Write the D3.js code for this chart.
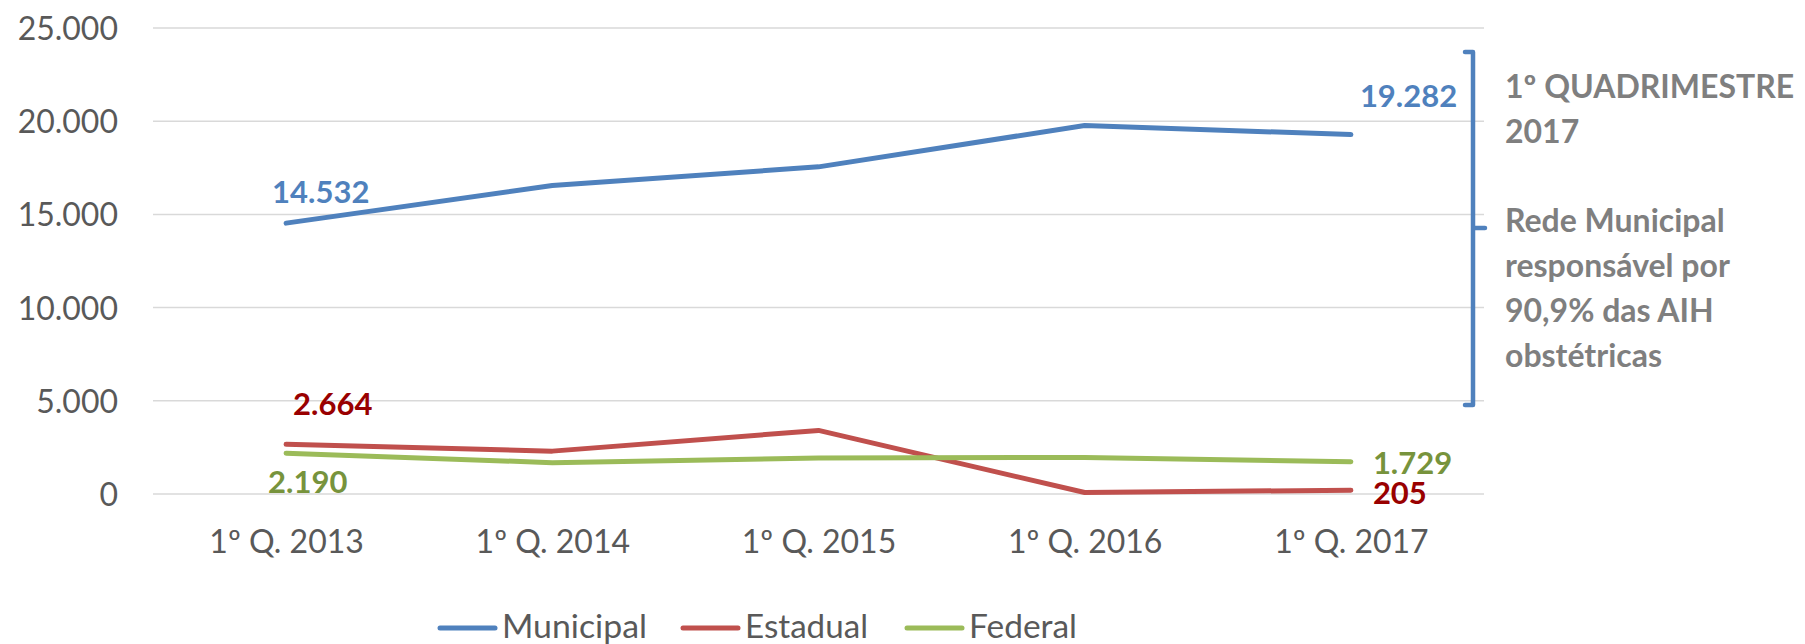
<!DOCTYPE html>
<html>
<head>
<meta charset="utf-8">
<script src="https://cdn.jsdelivr.net/npm/d3@7"></script>
<style>
  html, body { margin: 0; padding: 0; background: #fff; }
  svg { display: block; font-family: Lato, "Open Sans", sans-serif; }
</style>
</head>
<body>
<svg id="graph"></svg>
<script>
// categorias e séries
const categorias = ['1º Q. 2013', '1º Q. 2014', '1º Q. 2015', '1º Q. 2016', '1º Q. 2017'];
const municipal = [14532, 16550, 17550, 19770, 19282];
const estadual = [2664, 2300, 3410, 80, 205];
const federal = [2190, 1680, 1930, 1960, 1729];
const yTicks = [0, 5000, 10000, 15000, 20000, 25000];
const nota = ['1º QUADRIMESTRE', '2017', '', 'Rede Municipal', 'responsável por', '90,9% das AIH', 'obstétricas'];

const series = [
    { nome: 'Municipal', valores: municipal, cor: '#4F81BD', corLabel: '#4F81BD' },
    { nome: 'Estadual', valores: estadual, cor: '#C0504D', corLabel: '#990000' },
    { nome: 'Federal', valores: federal, cor: '#9BBB59', corLabel: '#77933C' }
];

// onde ficam os rótulos de valor (primeiro e último ponto)
const rotulos = [
    { serie: 0, i: 0, dx: -14, dy: -20 },
    { serie: 0, i: 4, dx: 9, dy: -28 },
    { serie: 1, i: 0, dx: 7, dy: -29 },
    { serie: 1, i: 4, dx: 22, dy: 14 },
    { serie: 2, i: 0, dx: -18, dy: 40 },
    { serie: 2, i: 4, dx: 22, dy: 12 }
];

var svgWidth = 1805;
var svgHeight = 644;
var svg = d3.select('#graph')
    .attr('width', svgWidth)
    .attr('height', svgHeight);

const br = d3.formatLocale({ decimal: ',', thousands: '.', grouping: [3], currency: ['R$', ''] });
const fmt = br.format(',d');

var x = d3.scalePoint().domain(categorias).range([153, 1484]).padding(0.5);
var y = d3.scaleLinear().domain([0, 25000]).range([494, 28]);

// grade
svg.append('g')
    .selectAll('line')
    .data(yTicks)
    .enter()
    .append('line')
    .attr('x1', 153)
    .attr('x2', 1484)
    .attr('y1', d => y(d))
    .attr('y2', d => y(d))
    .attr('stroke', '#D9D9D9')
    .attr('stroke-width', 1.5);

// eixo y
var yAxis = svg.append('g')
    .attr('transform', 'translate(118,0)')
    .call(d3.axisLeft(y).tickValues(yTicks).tickFormat(fmt).tickSize(0).tickPadding(0));
yAxis.select('.domain').remove();
yAxis.selectAll('text')
    .attr('font-size', 32)
    .attr('font-family', 'Lato, sans-serif')
    .attr('fill', '#595959')
    .attr('dy', '0.36em');

// eixo x
var xAxis = svg.append('g')
    .attr('transform', 'translate(0,' + 494 + ')')
    .call(d3.axisBottom(x).tickSize(0).tickPadding(0));
xAxis.select('.domain').remove();
xAxis.selectAll('text')
    .attr('font-size', 32)
    .attr('font-family', 'Lato, sans-serif')
    .attr('fill', '#595959')
    .attr('y', 59)
    .attr('dy', 0);

// linhas
var line = d3.line()
    .x((d, i) => x(categorias[i]))
    .y(d => y(d));

svg.selectAll('path.serie')
    .data(series)
    .enter()
    .append('path')
    .attr('class', 'serie')
    .attr('d', d => line(d.valores))
    .attr('fill', 'none')
    .attr('stroke', d => d.cor)
    .attr('stroke-width', 5)
    .attr('stroke-linecap', 'round')
    .attr('stroke-linejoin', 'round');

// rótulos de valor
svg.selectAll('text.rotulo')
    .data(rotulos)
    .enter()
    .append('text')
    .attr('class', 'rotulo')
    .attr('x', d => x(categorias[d.i]) + d.dx)
    .attr('y', d => y(series[d.serie].valores[d.i]) + d.dy)
    .attr('font-size', 31)
    .attr('font-weight', 'bold')
    .attr('fill', d => series[d.serie].corLabel)
    .text(d => fmt(series[d.serie].valores[d.i]));

// chave azul
svg.append('path')
    .attr('d', 'M1465,52 L1473,52 L1473,405 L1465,405 M1473,228 L1485,228')
    .attr('fill', 'none')
    .attr('stroke', '#4F81BD')
    .attr('stroke-width', 4.5)
    .attr('stroke-linecap', 'round')
    .attr('stroke-linejoin', 'round');

svg.append('text')
    .attr('x', 1505)
    .attr('font-size', 32)
    .attr('font-weight', 'bold')
    .attr('fill', '#7F7F7F')
    .selectAll('tspan')
    .data(nota)
    .enter()
    .append('tspan')
    .attr('x', 1505)
    .attr('y', (d, i) => 98 + i * 44.8)
    .text(d => d);

// legenda
var legX = [440, 683, 907];
var legW = [145, 123, 108];
var leg = svg.append('g')
    .selectAll('g')
    .data(series)
    .enter()
    .append('g')
    .attr('transform', (d, i) => 'translate(' + legX[i] + ',628)');
leg.append('line')
    .attr('x1', 0)
    .attr('x2', 55)
    .attr('stroke', d => d.cor)
    .attr('stroke-width', 5)
    .attr('stroke-linecap', 'round');
leg.append('text')
    .attr('x', 62)
    .attr('y', 10)
    .attr('font-size', 32)
    .attr('fill', '#595959')
    .attr('textLength', (d, i) => legW[i])
    .attr('lengthAdjust', 'spacingAndGlyphs')
    .text(d => d.nome);
</script>
</body>
</html>
